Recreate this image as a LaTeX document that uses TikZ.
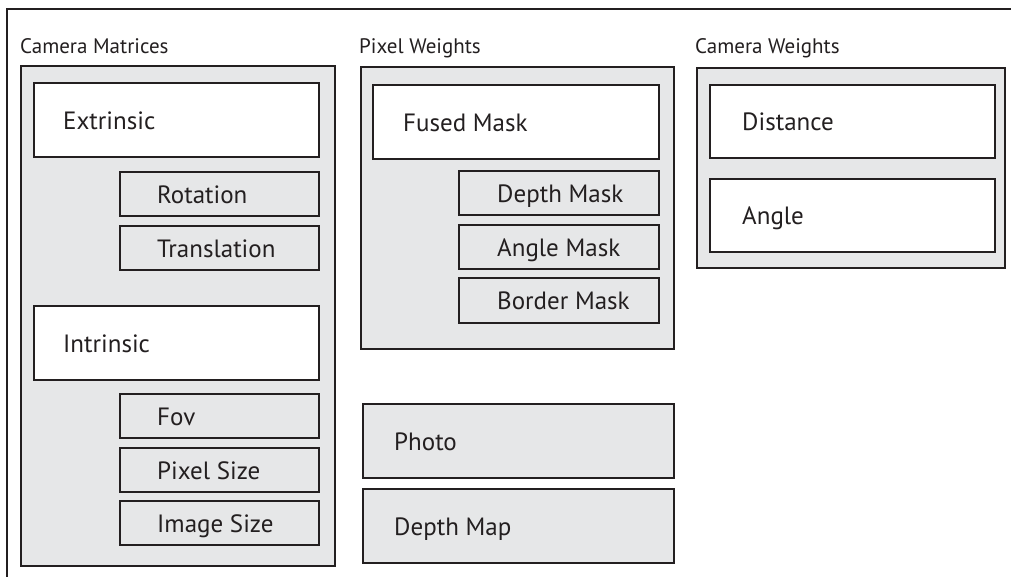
\documentclass[tikz,border=0pt]{standalone}
\usepackage{fontspec}
\setmainfont{PT Sans}
\definecolor{boxgray}{HTML}{E6E7E8}
\definecolor{ink}{HTML}{231F20}
\begin{document}
\begin{tikzpicture}[x=1pt,y=-1pt,
  grp/.style={draw=ink, line width=2.2pt, fill=boxgray, inner sep=0pt, anchor=north west},
  wbox/.style={draw=ink, line width=2pt, fill=white, inner sep=0pt, anchor=north west},
  sbox/.style={draw=ink, line width=2pt, fill=boxgray, inner sep=0pt, anchor=north west},
  txt/.style={anchor=base west, inner sep=0pt, yshift=-9pt, text=ink, font=\fontsize{25}{30}\selectfont},
  ttl/.style={anchor=base west, inner sep=0pt, text=ink, font=\fontsize{21}{25}\selectfont}]
\useasboundingbox (0,0) rectangle (1011,576);
\fill[white] (0,0) rectangle (1011,576);
\coordinate (fa) at (7,577);
\coordinate (fb) at (7,9);
\coordinate (fc) at (1012,9);
\draw[ink, line width=2pt] (fa) -- (fb) -- (fc);
% titles
\node[ttl] (tcm) at (20,53) {Camera Matrices};
\node[ttl] (tpw) at (359,53) {Pixel Weights};
\node[ttl] (tcw) at (695,53) {Camera Weights};
% Camera Matrices
\node[grp, minimum width=314, minimum height=500] (cm) at (20,65) {};
\node[wbox, minimum width=285, minimum height=74] (ext) at (33,82) {};
\node[txt] at ([xshift=30]ext.west) {Extrinsic};
\node[sbox, minimum width=199, minimum height=44] (rot) at (119,171) {};
\node[txt] at ([xshift=38]rot.west) {Rotation};
\node[sbox, minimum width=199, minimum height=44] (tra) at (119,225) {};
\node[txt] at ([xshift=38]tra.west) {Translation};
\node[wbox, minimum width=285, minimum height=74] (int) at (33,305) {};
\node[txt] at ([xshift=30]int.west) {Intrinsic};
\node[sbox, minimum width=199, minimum height=44] (fov) at (119,393) {};
\node[txt] at ([xshift=38]fov.west) {Fov};
\node[sbox, minimum width=199, minimum height=44] (pxs) at (119,447) {};
\node[txt] at ([xshift=38]pxs.west) {Pixel Size};
\node[sbox, minimum width=199, minimum height=44] (ims) at (119,500) {};
\node[txt] at ([xshift=38]ims.west) {Image Size};
% Pixel Weights
\node[grp, minimum width=313, minimum height=282] (pw) at (360,66) {};
\node[wbox, minimum width=286, minimum height=74] (fm) at (372,84) {};
\node[txt] at ([xshift=31]fm.west) {Fused Mask};
\node[sbox, minimum width=200, minimum height=44] (dm) at (458,170) {};
\node[txt] at ([xshift=39]dm.west) {Depth Mask};
\node[sbox, minimum width=200, minimum height=44] (am) at (458,224) {};
\node[txt] at ([xshift=39]am.west) {Angle Mask};
\node[sbox, minimum width=200, minimum height=45] (bm) at (458,277) {};
\node[txt] at ([xshift=39]bm.west) {Border Mask};
% Camera Weights
\node[grp, minimum width=308, minimum height=200] (cw) at (696,67) {};
\node[wbox, minimum width=285, minimum height=73] (dist) at (709,84) {};
\node[txt] at ([xshift=33]dist.west) {Distance};
\node[wbox, minimum width=285, minimum height=73] (ang) at (709,178) {};
\node[txt] at ([xshift=33]ang.west) {Angle};
% Photo / Depth Map
\node[sbox, minimum width=311, minimum height=74] (ph) at (362,403) {};
\node[txt] at ([xshift=32]ph.west) {Photo};
\node[sbox, minimum width=311, minimum height=74] (dmap) at (362,488) {};
\node[txt] at ([xshift=32]dmap.west) {Depth Map};
\end{tikzpicture}
\end{document}
